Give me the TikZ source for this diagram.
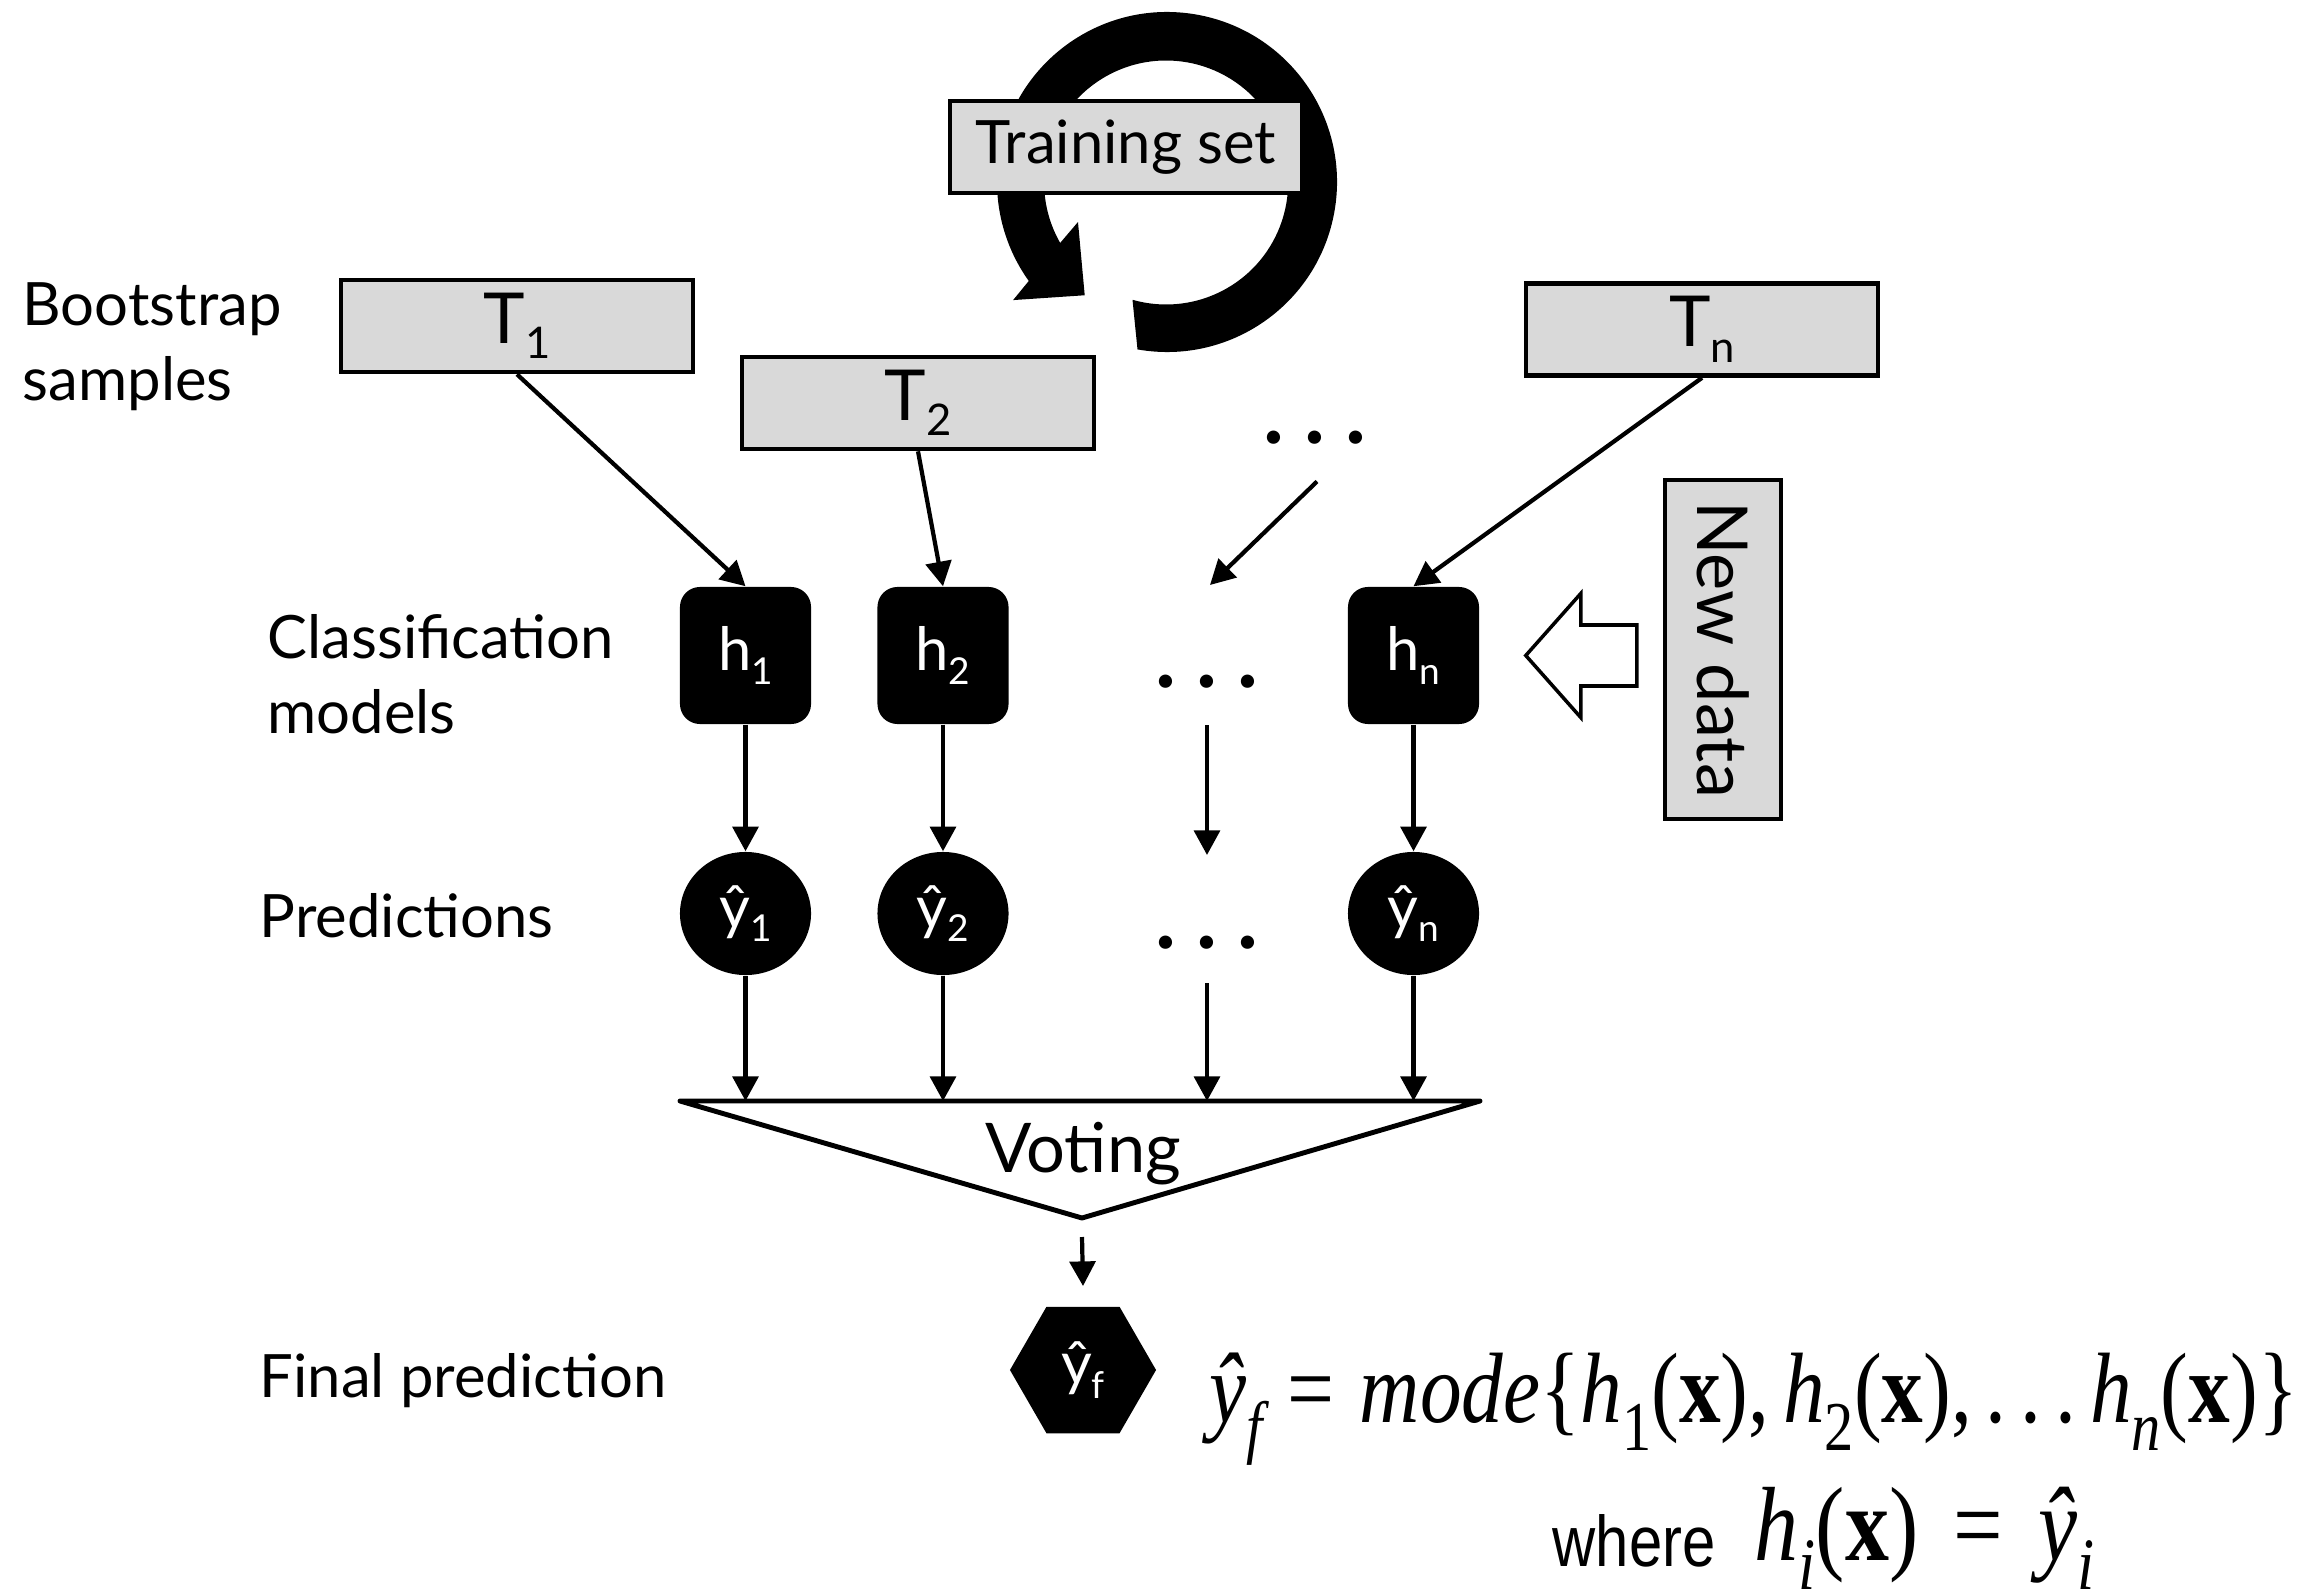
\documentclass[tikz,border=0pt]{standalone}
\usepackage{fontspec}
\usepackage{graphicx}
\setmainfont{Lato}
\newfontfamily\tms{Liberation Serif}
\newfontfamily\arl{Liberation Sans}
\usetikzlibrary{arrows.meta,shapes.geometric}
\definecolor{boxgray}{HTML}{D9D9D9}
% lowered, reduced index for labels in the sans font
\newcommand\dn[1]{\raisebox{-0.22em}{\scalebox{0.62}{#1}}}
% lowered, reduced index for the serif formulas
\newcommand\msub[1]{\raisebox{-0.28em}{\scalebox{0.7}{#1}}}
\newcommand\threedots{.\hspace{0.15em}.\hspace{0.15em}.}
\newcommand\eqsign{\hspace{0.3em}=\hspace{0.3em}}

\begin{document}
\begin{tikzpicture}[x=0.01cm,y=0.01cm,
  lbl/.style={font=\fontsize{17}{21.3}\selectfont, align=left, inner sep=0, anchor=west},
  tbox/.style={draw, line width=1.3pt, fill=boxgray, minimum width=3.52cm,
    minimum height=0.92cm, inner sep=0, font=\fontsize{20}{24}\selectfont},
  model/.style={fill=black, rounded corners=0.2cm, minimum width=1.31cm,
    minimum height=1.37cm, inner sep=0, text=white, font=\fontsize{17}{20}\selectfont},
  pred/.style={ellipse, fill=black, minimum width=1.31cm, minimum height=1.23cm,
    inner sep=0, text=white, font=\fontsize{17}{20}\selectfont},
  final/.style={regular polygon, regular polygon sides=6, fill=black,
    minimum size=1.46cm, inner sep=0, text=white, font=\fontsize{17}{20}\selectfont},
  dotsrow/.style={font=\fontsize{30}{30}\selectfont, inner sep=0, anchor=base},
  arr/.style={-{Triangle[length=7pt,width=7.3pt]}, line width=1.2pt},
  formula/.style={anchor=base west, inner sep=0, font=\tms\fontsize{23.7}{28}\selectfont},
]
\useasboundingbox (0,0) rectangle (2318,-1594);

% circular arrow behind the training set
\fill[shift={(1167,-182)}] (260:170) arc[start angle=260, end angle=575.6, radius=170]
  -- (217.5:194) -- (234:140) -- (204.2:97.6) -- (209.7:123)
  arc[start angle=569.7, end angle=254, radius=122] -- cycle;
\node[tbox, font=\fontsize{17}{21}\selectfont] (train) at (1126,-147) {Training set};

% row labels
\node[lbl] (lboot) at (22,-347) {Bootstrap\\samples};
\node[lbl] (lclass) at (267,-674) {Classification\\models};
\node[lbl, anchor=base west] (lpred) at (259,-937) {Predictions};
\node[lbl, anchor=base west] (lfinal) at (259,-1397) {Final prediction};

% bootstrap samples
\node[tbox] (T1) at (517,-326) {T\dn{1}};
\node[tbox] (T2) at (918,-403) {T\dn{2}};
\node[tbox] (Tn) at (1702,-329.5) {T\dn{n}};
\node[dotsrow] (dT) at (1315,-443) {\threedots};

% classifiers
\node[model] (h1) at (745.5,-655.5) {h\dn{1}};
\node[model] (h2) at (943,-655.5) {h\dn{2}};
\node[model] (hn) at (1413.5,-655.5) {h\dn{n}};
\node[dotsrow] (dH) at (1207,-687) {\threedots};

% predictions
\node[pred] (y1) at (745.5,-913.5) {ŷ\dn{1}};
\node[pred] (y2) at (943,-913.5) {ŷ\dn{2}};
\node[pred] (yn) at (1413.5,-913.5) {ŷ\dn{n}};
\node[dotsrow] (dY) at (1207,-948) {\threedots};

% new data
\node[tbox, minimum width=3.39cm, minimum height=1.16cm, rotate=-90] (nd) at (1723,-649.5) {New data};
\coordinate (na) at ([xshift=0.46cm]hn.east);
\draw[line width=1pt, fill=white] (na) -- ++(55,62) -- ++(0,-31.5) -- ++(56,0)
  -- ++(0,-61) -- ++(-56,0) -- ++(0,-31.5) -- cycle;

% voting
\coordinate (vl) at (680,-1101);
\coordinate (vr) at (1480,-1101);
\coordinate (vapex) at (1082,-1218);
\draw[line width=1.4pt, line join=round] (vl) -- (vr) -- (vapex) -- cycle;
\node[font=\fontsize{19.5}{24}\selectfont, anchor=base, inner sep=0] (vote) at (1083,-1172) {Voting};

% final prediction
\node[final] (yf) at (1083,-1370) {ŷ\dn{f}};

% middle column
\coordinate (mtop) at (1210,-585);
\coordinate (mA) at (1207,-725);
\coordinate (mB) at (1207,-855);
\coordinate (mC) at (1207,-983);

% connectors
\draw[arr] (T1.south) -- (h1.north);
\draw[arr] (T2.south) -- (h2.north);
\draw[arr] (Tn.south) -- (hn.north);
\draw[arr] (dT.south) ++(2,-37) -- (mtop);
\draw[arr] (h1.south) -- (y1.north);
\draw[arr] (h2.south) -- (y2.north);
\draw[arr] (hn.south) -- (yn.north);
\draw[arr] (mA) -- (mB);
\draw[arr] (y1.south) -- (y1.south |- vl);
\draw[arr] (y2.south) -- (y2.south |- vl);
\draw[arr] (yn.south) -- (yn.south |- vl);
\draw[arr] (mC) -- (mC |- vl);
\draw[arr] (vapex) ++(0,-19) -- ([yshift=0.2cm]yf.north);

% formulas
\node[formula] (fm) at (1209,-1422) {\scalebox{1}[1.2]{\itshape ŷ\msub{f}\upshape\eqsign\itshape mode\upshape\{\itshape h\msub{\upshape 1}\upshape(\textbf{x}),\,\itshape h\msub{\upshape 2}\upshape(\textbf{x}),\,.\,.\,.\,\itshape h\msub{n}\upshape(\textbf{x})\}}};
\node[anchor=base west, inner sep=0, font=\arl\fontsize{17}{20}\selectfont] (wh) at (1552,-1566) {\scalebox{1}[1.2]{where}};
\node[formula, font=\tms\fontsize{25}{29}\selectfont] (fm2) at (1754,-1560) {\scalebox{1}[1.2]{\itshape h\msub{i}\upshape(\textbf{x})\hspace{0.4em}=\hspace{0.4em}\itshape ŷ\msub{i}}};
\end{tikzpicture}
\end{document}
